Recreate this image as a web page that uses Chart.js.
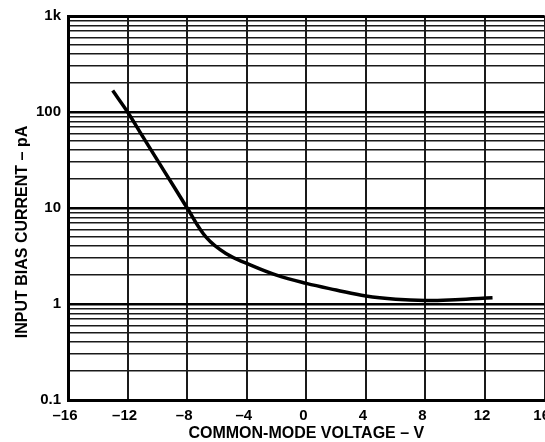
<!DOCTYPE html>
<html>
<head>
<meta charset="utf-8">
<script src="https://cdn.jsdelivr.net/npm/chart.js@4"></script>
<style>
  html, body { margin: 0; padding: 0; background: #fff; overflow: hidden; }
  canvas { display: block; }
</style>
</head>
<body>
<canvas id="chart" width="560" height="442"></canvas>
<script>
// common-mode voltage (V) and input bias current (pA)
const voltage = [-13, -12, -11, -10, -9, -8, -6.7, -5.4, -4, -2, 0, 2, 4, 6, 8, 10, 12.5];
const biasCurrent = [167, 100, 56, 31.5, 17.8, 10, 4.9, 3.35, 2.65, 2.0, 1.64, 1.40, 1.21, 1.12, 1.09, 1.11, 1.16];

// axis ticks
const xTicks = [-16, -12, -8, -4, 0, 4, 8, 12, 16];
const decades = [0.1, 1, 10, 100, 1000];
const decadeLabels = ['0.1', '1', '10', '100', '1k'];

// every 1..9 line inside each decade
const yTicks = [];
decades.forEach((d, i) => {
    if (i === decades.length - 1) { yTicks.push(d); return; }
    for (let m = 1; m < 10; m++) yTicks.push(d * m);
});

const FONT = '"Liberation Sans", Arial, sans-serif';

function decadeIndex(v) {
    return decades.findIndex(d => Math.abs(v - d) < d * 1e-6);
}

// y axis title drawn by hand: in the original it sits lower than the plot centre
const yTitlePlugin = {
    id: 'yTitle',
    afterDraw(chart) {
        const ctx = chart.ctx;
        ctx.save();
        ctx.translate(23, 232);
        ctx.rotate(-Math.PI / 2);
        ctx.font = 'bold 16px ' + FONT;
        ctx.fillStyle = '#000';
        ctx.textAlign = 'center';
        ctx.textBaseline = 'middle';
        ctx.fillText('INPUT BIAS CURRENT – pA', 0, 0);
        ctx.restore();
    }
};

new Chart(document.getElementById('chart'), {
    type: 'line',
    data: {
        datasets: [{
            data: voltage.map((v, i) => ({ x: v, y: biasCurrent[i] })),
            borderColor: '#000',
            borderWidth: 3.5,
            pointRadius: 0,
            tension: 0.4,
            fill: false
        }]
    },
    options: {
        responsive: false,
        animation: false,
        layout: { padding: { top: 16, right: 12, left: 0, bottom: 0 } },
        plugins: {
            legend: { display: false },
            tooltip: { enabled: false }
        },
        scales: {
            x: {
                type: 'linear',
                min: -16,
                max: 16,
                afterBuildTicks: s => { s.ticks = xTicks.map(v => ({ value: v })); },
                afterFit: s => { s.height = 42; },
                grid: { color: '#1a1a1a', lineWidth: 2, drawTicks: false },
                border: { color: '#000', width: 3 },
                ticks: {
                    color: '#000',
                    font: { family: FONT, size: 15, weight: 'bold' },
                    padding: 7,
                    labelOffset: -3,
                    maxRotation: 0,
                    autoSkip: false,
                    callback: v => v < 0 ? '–' + Math.abs(v) : String(v)
                },
                title: {
                    display: true,
                    text: 'COMMON-MODE VOLTAGE – V',
                    color: '#000',
                    font: { family: FONT, size: 16, weight: 'bold', lineHeight: 1 },
                    padding: 0
                }
            },
            y: {
                type: 'logarithmic',
                min: 0.1,
                max: 1000,
                afterBuildTicks: s => { s.ticks = yTicks.map(v => ({ value: v })); },
                afterFit: s => { s.width = 68; },
                grid: {
                    drawTicks: false,
                    color: c => decadeIndex(c.tick.value) >= 0 ? '#000' : '#1a1a1a',
                    lineWidth: c => {
                        const i = decadeIndex(c.tick.value);
                        if (i === decades.length - 1) return 3;
                        return i >= 0 ? 2.5 : 1.5;
                    }
                },
                border: { color: '#000', width: 3 },
                ticks: {
                    color: '#000',
                    font: { family: FONT, size: 15, weight: 'bold' },
                    padding: 7,
                    autoSkip: false,
                    callback: v => {
                        const i = decadeIndex(v);
                        return i >= 0 ? decadeLabels[i] : '';
                    }
                }
            }
        }
    },
    plugins: [yTitlePlugin]
});
</script>
</body>
</html>
